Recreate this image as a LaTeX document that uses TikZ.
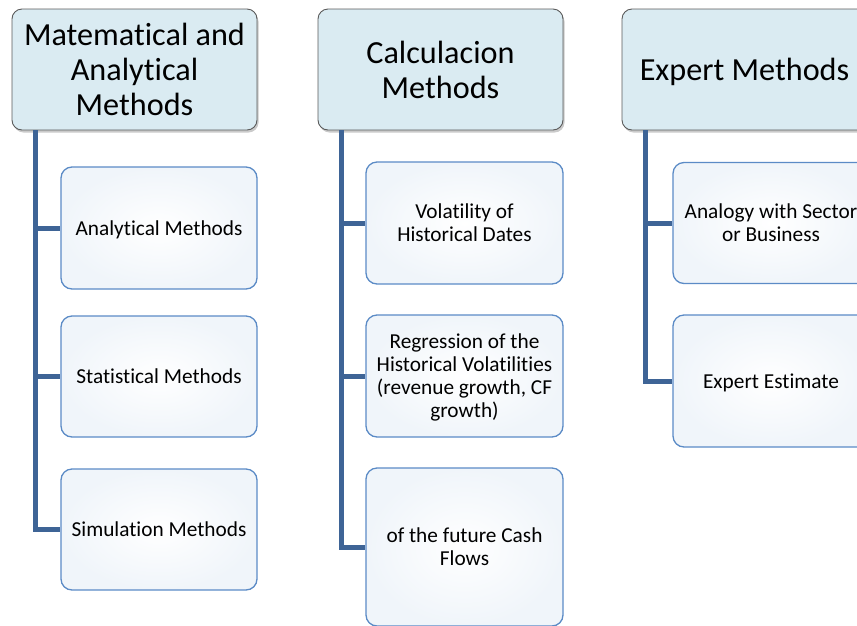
\documentclass[tikz,border=0pt]{standalone}
\usepackage{fontspec}
\setmainfont{Carlito}[Ligatures=NoCommon]
\usetikzlibrary{shadows}
\definecolor{headfill}{HTML}{DAEBF2}
\definecolor{headline}{HTML}{5A5A5A}
\definecolor{boxline}{HTML}{5B8BC6}
\definecolor{boxtint}{HTML}{F0F5FA}
\definecolor{connblue}{HTML}{3E6496}
\tikzset{
  x=1pt, y=-1pt,
  header/.style={draw=headline, line width=0.9pt, fill=headfill, rounded corners=10pt,
    minimum width=245pt, minimum height=121pt, align=center, inner sep=0pt,
    text depth=0pt, font=\fontsize{32.2}{35}\selectfont,
    drop shadow={shadow xshift=1.5pt, shadow yshift=-2.5pt, opacity=0.35, fill=black!60}},
  item/.style={draw=boxline, line width=1.3pt, rounded corners=11pt,
    inner color=white, outer color=boxtint,
    minimum width=196pt, minimum height=121pt, align=center, inner sep=0pt,
    text depth=0pt, font=\fontsize{21.3}{23}\selectfont},
  conn/.style={draw=connblue, line width=5pt}
}
\begin{document}
\begin{tikzpicture}
\useasboundingbox (0,0) rectangle (857,625);
\clip (0,0) rectangle (857,625);
% column headers
\node[header] (h1) at (134.5,69.5) {Matematical and\\Analytical\\Methods};
\node[header] (h2) at (440.5,69.5) {Calculacion\\Methods};
\node[header] (h3) at (744.5,69.5) {Expert Methods};
% first column
\node[item, minimum height=122pt] (a1) at (159,228) {Analytical Methods};
\node[item] (a2) at (159,376.5) {Statistical Methods};
\node[item] (a3) at (159,529.5) {Simulation Methods};
% second column
\node[item, minimum width=197pt, minimum height=122pt] (b1) at (464.5,223) {Volatility of\\Historical Dates};
\node[item, minimum width=197pt, minimum height=122pt] (b2) at (464.5,376) {Regression of the\\Historical Volatilities\\(revenue growth, CF\\growth)};
\node[item, minimum width=197pt, minimum height=158pt] (b3) at (464.5,547) {of the future Cash\\Flows};
% third column
\node[item] (c1) at (771,223) {Analogy with Sector\\or Business};
\node[item, minimum height=132pt] (c2) at (771,381) {Expert Estimate};
% connectors
\coordinate (t1) at ([xshift=24pt]h1.south west);
\coordinate (t2) at ([xshift=24pt]h2.south west);
\coordinate (t3) at ([xshift=24pt]h3.south west);
\draw[conn] (t1) |- (a3.west);
\draw[conn] (t1) |- (a1.west);
\draw[conn] (t1) |- (a2.west);
\draw[conn] (t2) |- (b3.west);
\draw[conn] (t2) |- (b1.west);
\draw[conn] (t2) |- (b2.west);
\draw[conn] (t3) |- (c2.west);
\draw[conn] (t3) |- (c1.west);
\end{tikzpicture}
\end{document}
